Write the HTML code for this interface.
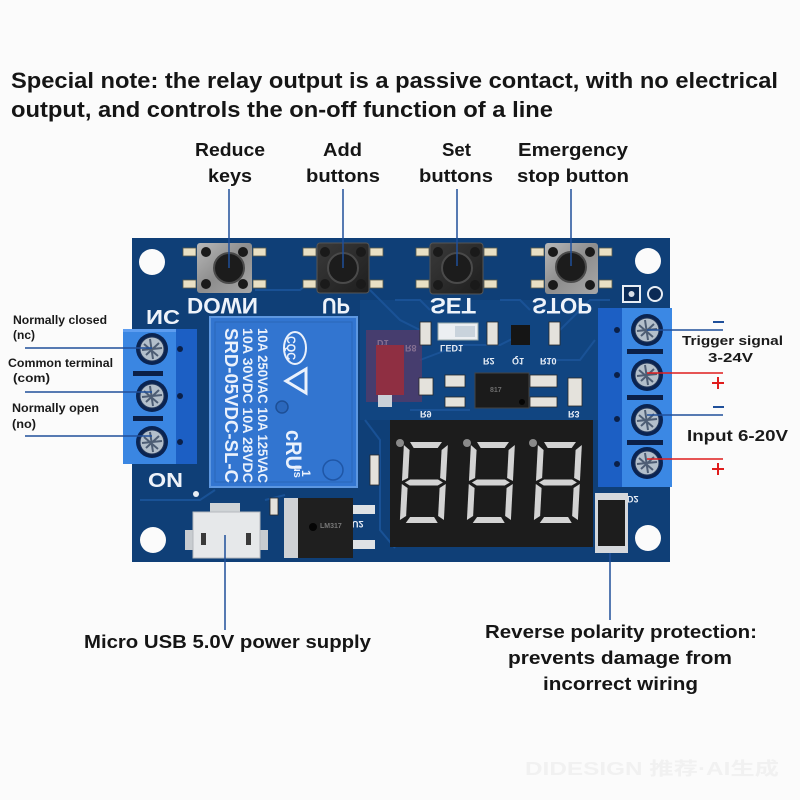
<!DOCTYPE html>
<html><head><meta charset="utf-8">
<style>
html,body{margin:0;padding:0;background:#fbfbfb;}
svg{display:block;}
text{font-family:"Liberation Sans","DejaVu Sans",sans-serif;font-weight:bold;}
</style></head><body>
<svg width="800" height="800" viewBox="0 0 800 800" xmlns="http://www.w3.org/2000/svg">
<defs>
  <g id="screw">
    <circle r="16" fill="#0a2452"/>
    <circle r="12" fill="#b3bfcb"/>
    <path d="M-8,-5 L6,7 M-6,6 L7,-6 M-2,-10 L1,10 M-10,1 L10,-1" stroke="#4d5d74" stroke-width="2"/>
    <circle r="12" fill="none" stroke="#23375a" stroke-width="1"/>
  </g>
  <linearGradient id="silver" x1="0" y1="0" x2="1" y2="1">
    <stop offset="0" stop-color="#b8b8b8"/><stop offset="0.5" stop-color="#8d8d8d"/><stop offset="1" stop-color="#a8a8a8"/>
  </linearGradient>
  <linearGradient id="dark" x1="0" y1="0" x2="1" y2="1">
    <stop offset="0" stop-color="#3a3a3a"/><stop offset="1" stop-color="#1e1e1e"/>
  </linearGradient>
  <g id="seg">
    <polygon points="6,0 38,0 34,6 10,6"/>
    <polygon points="10,75 34,75 38,81 6,81"/>
    <polygon points="0,3 6,8 6,36 0,39"/>
    <polygon points="0,42 6,46 6,74 0,78"/>
    <polygon points="44,3 44,39 38,36 38,8"/>
    <polygon points="44,42 44,78 38,74 38,46"/>
    <polygon points="3,40.5 8,37.5 36,37.5 41,40.5 36,43.5 8,43.5"/>
  </g>
</defs>
<rect width="800" height="800" fill="#fbfbfb"/>

<!-- Title -->
<text x="11" y="88" font-size="22" fill="#151515" textLength="767" lengthAdjust="spacingAndGlyphs">Special note: the relay output is a passive contact, with no electrical</text>
<text x="11" y="117" font-size="22" fill="#151515" textLength="542" lengthAdjust="spacingAndGlyphs">output, and controls the on-off function of a line</text>

<!-- Top labels -->
<g font-size="18" fill="#151515">
  <text x="195" y="156" textLength="70" lengthAdjust="spacingAndGlyphs">Reduce</text>
  <text x="208" y="182" textLength="44" lengthAdjust="spacingAndGlyphs">keys</text>
  <text x="323" y="156" textLength="39" lengthAdjust="spacingAndGlyphs">Add</text>
  <text x="306" y="182" textLength="74" lengthAdjust="spacingAndGlyphs">buttons</text>
  <text x="442" y="156" textLength="29" lengthAdjust="spacingAndGlyphs">Set</text>
  <text x="419" y="182" textLength="74" lengthAdjust="spacingAndGlyphs">buttons</text>
  <text x="518" y="156" textLength="110" lengthAdjust="spacingAndGlyphs">Emergency</text>
  <text x="517" y="182" textLength="112" lengthAdjust="spacingAndGlyphs">stop button</text>
</g>

<!-- PCB -->
<rect x="132" y="238" width="538" height="324" fill="#0f3f77"/>
<rect x="360" y="300" width="240" height="120" fill="#134a88" opacity="0.6"/>
<!-- traces -->
<g stroke="#1b5499" stroke-width="2" fill="none" opacity="0.9">
  <path d="M255 290 L300 290 L310 282 L320 282"/>
  <path d="M370 290 L400 320 L420 330"/>
  <path d="M420 360 L460 345 L500 345 L520 335"/>
  <path d="M540 360 L580 360 L595 340"/>
  <path d="M365 420 L380 440 L380 530 L395 548"/>
  <path d="M410 410 L470 410"/>
  <path d="M560 330 L590 300 L610 300"/>
  <path d="M140 500 L200 500 L215 490"/>
  <path d="M265 500 L285 495"/>
  <path d="M395 300 L420 300 L430 310"/>
  <path d="M500 300 L520 300 L530 310"/>
</g>
<!-- holes -->
<g fill="#fbfbfb">
  <circle cx="152" cy="262" r="13"/>
  <circle cx="648" cy="261" r="13"/>
  <circle cx="153" cy="540" r="13"/>
  <circle cx="648" cy="538" r="13"/>
</g>
<!-- top right pads -->
<rect x="623" y="286" width="17" height="16" fill="#0b2a55" stroke="#e8eef5" stroke-width="2"/>
<circle cx="631.5" cy="294" r="3" fill="#d8dde5"/>
<circle cx="655" cy="294" r="7" fill="#0b2a55" stroke="#e8eef5" stroke-width="2"/>

<!-- Buttons -->
<g>
  <g fill="#e9e0c4" stroke="#5a5a4a" stroke-width="0.8">
    <rect x="183" y="248" width="13" height="8"/><rect x="253" y="248" width="13" height="8"/>
    <rect x="183" y="280" width="13" height="8"/><rect x="253" y="280" width="13" height="8"/>
    <rect x="303" y="248" width="13" height="8"/><rect x="370" y="248" width="13" height="8"/>
    <rect x="303" y="280" width="13" height="8"/><rect x="370" y="280" width="13" height="8"/>
    <rect x="416" y="248" width="13" height="8"/><rect x="484" y="248" width="13" height="8"/>
    <rect x="416" y="280" width="13" height="8"/><rect x="484" y="280" width="13" height="8"/>
    <rect x="531" y="248" width="13" height="8"/><rect x="599" y="248" width="13" height="8"/>
    <rect x="531" y="280" width="13" height="8"/><rect x="599" y="280" width="13" height="8"/>
  </g>
  <rect x="197" y="243" width="55" height="50" rx="3" fill="url(#silver)"/>
  <rect x="317" y="243" width="52" height="50" rx="3" fill="url(#dark)" stroke="#555" stroke-width="1"/>
  <rect x="430" y="243" width="53" height="51" rx="3" fill="url(#dark)" stroke="#555" stroke-width="1"/>
  <rect x="545" y="243" width="53" height="51" rx="3" fill="url(#silver)"/>
  <g fill="#1a1a1a">
    <circle cx="206" cy="252" r="5"/><circle cx="243" cy="252" r="5"/><circle cx="206" cy="284" r="5"/><circle cx="243" cy="284" r="5"/>
    <circle cx="325" cy="252" r="5"/><circle cx="361" cy="252" r="5"/><circle cx="325" cy="284" r="5"/><circle cx="361" cy="284" r="5"/>
    <circle cx="438" cy="252" r="5"/><circle cx="475" cy="252" r="5"/><circle cx="438" cy="285" r="5"/><circle cx="475" cy="285" r="5"/>
    <circle cx="553" cy="252" r="5"/><circle cx="590" cy="252" r="5"/><circle cx="553" cy="285" r="5"/><circle cx="590" cy="285" r="5"/>
  </g>
  <g fill="#1c1c1c" stroke="#4a4a4a" stroke-width="2">
    <circle cx="229" cy="268" r="15"/>
    <circle cx="343" cy="268" r="15"/>
    <circle cx="457" cy="268" r="15"/>
    <circle cx="571" cy="267" r="15"/>
  </g>
</g>

<!-- silkscreen flipped labels -->
<g fill="#eef3fa" font-size="22">
  <text transform="translate(0,612) scale(1,-1)" x="187" y="314" textLength="71" lengthAdjust="spacingAndGlyphs">DOWN</text>
  <text transform="translate(0,612) scale(1,-1)" x="322" y="314" textLength="28" lengthAdjust="spacingAndGlyphs">UP</text>
  <text transform="translate(0,612) scale(1,-1)" x="430" y="314" textLength="46" lengthAdjust="spacingAndGlyphs">SET</text>
  <text transform="translate(0,612) scale(1,-1)" x="532" y="314" textLength="60" lengthAdjust="spacingAndGlyphs">STOP</text>
  <text transform="translate(0,636) scale(1,-1)" x="146" y="326" font-size="20" textLength="34" lengthAdjust="spacingAndGlyphs">NC</text>
  <text x="148" y="487" font-size="20" textLength="35" lengthAdjust="spacingAndGlyphs">ON</text>
</g>
<circle cx="196" cy="494" r="3" fill="#e8eef5"/>

<!-- small component labels -->
<g fill="#e6ecf5" font-size="9">
  <text transform="translate(0,700) scale(1,-1)" x="405" y="355">R8</text>
  <text transform="translate(0,700) scale(1,-1)" x="440" y="355">LED1</text>
  <text transform="translate(0,720) scale(1,-1)" x="483" y="362">R2</text>
  <text transform="translate(0,720) scale(1,-1)" x="512" y="362">Q1</text>
  <text transform="translate(0,720) scale(1,-1)" x="540" y="362">R10</text>
  <text transform="translate(0,830) scale(1,-1)" x="420" y="419">R9</text>
  <text transform="translate(0,830) scale(1,-1)" x="568" y="419">R3</text>
  <text transform="translate(0,1000) scale(1,-1)" x="627" y="504">D2</text>
  <text transform="translate(0,690) scale(1,-1)" x="377" y="350">D1</text>
  <text transform="translate(0,1050) scale(1,-1)" x="352" y="529">U2</text>
</g>

<!-- left terminal block -->
<rect x="123" y="329" width="53" height="135" fill="#3a86e2"/>
<rect x="123" y="329" width="53" height="3" fill="#5d9df0"/>
<rect x="176" y="329" width="21" height="135" fill="#1c5fc4"/>
<g fill="#0b2048">
  <circle cx="180" cy="349" r="3"/><circle cx="180" cy="396" r="3"/><circle cx="180" cy="442" r="3"/>
  <rect x="133" y="371" width="30" height="5"/><rect x="133" y="416" width="30" height="5"/>
</g>
<use href="#screw" x="152" y="349"/>
<use href="#screw" x="152" y="396"/>
<use href="#screw" x="152" y="442"/>

<!-- right terminal block -->
<rect x="598" y="308" width="24" height="179" fill="#1c5fc4"/>
<rect x="622" y="308" width="50" height="179" fill="#3b88e4"/>
<g fill="#0b2048">
  <circle cx="617" cy="330" r="3"/><circle cx="617" cy="375" r="3"/><circle cx="617" cy="419" r="3"/><circle cx="617" cy="464" r="3"/>
  <rect x="627" y="349" width="36" height="5"/><rect x="627" y="395" width="36" height="5"/><rect x="627" y="440" width="36" height="5"/>
</g>
<use href="#screw" x="647" y="330"/>
<use href="#screw" x="647" y="375"/>
<use href="#screw" x="647" y="420"/>
<use href="#screw" x="647" y="463"/>

<!-- Relay -->
<rect x="210" y="317" width="147" height="170" fill="#3275d0" stroke="#5d97e0" stroke-width="2"/>
<rect x="215" y="322" width="137" height="160" fill="none" stroke="#2a66b9" stroke-width="1"/>
<g fill="#eaf1fc">
  <text transform="translate(225,328) rotate(90)" font-size="18" textLength="155" lengthAdjust="spacingAndGlyphs">SRD-05VDC-SL-C</text>
  <text transform="translate(243,328) rotate(90)" font-size="14" textLength="155" lengthAdjust="spacingAndGlyphs">10A  30VDC  10A  28VDC</text>
  <text transform="translate(258,328) rotate(90)" font-size="14" textLength="155" lengthAdjust="spacingAndGlyphs">10A 250VAC 10A 125VAC</text>
  <text transform="translate(287,336) rotate(90)" font-size="12" textLength="24" lengthAdjust="spacingAndGlyphs">CQC</text>
  <text transform="translate(286,430) rotate(90)" font-size="22" textLength="40" lengthAdjust="spacingAndGlyphs">cRU</text>
  <text transform="translate(294,465) rotate(90)" font-size="11">us</text>
  <text transform="translate(302,470) rotate(90)" font-size="12">1</text>
</g>
<ellipse cx="295" cy="348" rx="11" ry="16" fill="none" stroke="#eaf1fc" stroke-width="2"/>
<path d="M286 381 L306 369 L306 393 Z" fill="none" stroke="#eaf1fc" stroke-width="3"/>
<circle cx="282" cy="407" r="6" fill="#2b68bd" stroke="#1d4f96" stroke-width="1.5"/>
<circle cx="333" cy="470" r="10" fill="none" stroke="#1f56a6" stroke-width="1.5"/>

<!-- D1 red area -->
<rect x="366" y="330" width="56" height="72" fill="#5d3b66" opacity="0.7"/>
<rect x="376" y="345" width="28" height="50" fill="#8f2f42"/>
<rect x="378" y="395" width="14" height="12" fill="#c9d0d8"/>

<!-- small parts -->
<g fill="#e4e2dc" stroke="#2a2a2a" stroke-width="0.8">
  <rect x="420" y="322" width="11" height="23"/>
  <rect x="487" y="322" width="11" height="23"/>
  <rect x="549" y="322" width="11" height="23"/>
  <rect x="419" y="378" width="14" height="17"/>
  <rect x="568" y="378" width="14" height="28"/>
  <rect x="445" y="375" width="20" height="12"/>
  <rect x="445" y="397" width="20" height="10"/>
  <rect x="530" y="375" width="27" height="12"/>
  <rect x="530" y="397" width="27" height="10"/>
  <rect x="370" y="455" width="9" height="30"/>
  <rect x="270" y="498" width="8" height="17"/>
</g>
<rect x="438" y="323" width="40" height="17" fill="#eceff2" stroke="#9aa" stroke-width="1"/>
<rect x="455" y="326" width="20" height="11" fill="#c9d3dc"/>
<rect x="511" y="325" width="19" height="20" fill="#151515"/>
<!-- optocoupler -->
<rect x="475" y="373" width="54" height="35" fill="#1b1b1b" stroke="#444" stroke-width="1"/>
<circle cx="522" cy="402" r="3" fill="#050505"/>
<text x="490" y="392" font-size="7" fill="#6d6d6d">817</text>

<!-- Display -->
<rect x="390" y="420" width="203" height="127" fill="#1c1c1c"/>
<g fill="#d3d3d3">
  <use href="#seg" transform="translate(404,442) skewX(-3)"/>
  <use href="#seg" transform="translate(471,442) skewX(-3)"/>
  <use href="#seg" transform="translate(538,442) skewX(-3)"/>
</g>
<g fill="#8a8a8a">
  <circle cx="400" cy="443" r="4"/><circle cx="467" cy="443" r="4"/><circle cx="533" cy="443" r="4"/>
</g>

<!-- D2 -->
<rect x="595" y="493" width="33" height="60" fill="#d5d8dc"/>
<rect x="598" y="500" width="27" height="46" fill="#1d1d1d"/>

<!-- LM317 -->
<rect x="284" y="498" width="16" height="60" fill="#cfd2d5"/>
<rect x="298" y="498" width="55" height="60" fill="#1f1f1f"/>
<rect x="353" y="505" width="22" height="9" fill="#dfe2e5"/>
<rect x="353" y="540" width="22" height="9" fill="#dfe2e5"/>
<circle cx="313" cy="527" r="4" fill="#050505"/>
<text x="320" y="528" font-size="7" fill="#777">LM317</text>

<!-- USB -->
<rect x="210" y="503" width="30" height="9" fill="#cfd3d6"/>
<rect x="185" y="530" width="10" height="20" fill="#c8ccd0"/>
<rect x="258" y="530" width="10" height="20" fill="#c8ccd0"/>
<rect x="193" y="512" width="67" height="46" fill="#e6e8ea" stroke="#b5b9bd" stroke-width="1"/>
<rect x="201" y="533" width="5" height="12" fill="#3a3a3a"/>
<rect x="246" y="533" width="5" height="12" fill="#3a3a3a"/>

<!-- Leader lines -->
<g stroke="#1f4f9a" stroke-width="1.5">
  <line x1="229" y1="189" x2="229" y2="268"/>
  <line x1="343" y1="189" x2="343" y2="268"/>
  <line x1="457" y1="189" x2="457" y2="266"/>
  <line x1="571" y1="189" x2="571" y2="266"/>
  <line x1="25" y1="348" x2="152" y2="348"/>
  <line x1="25" y1="392" x2="152" y2="392"/>
  <line x1="25" y1="436" x2="152" y2="436"/>
  <line x1="647" y1="330" x2="723" y2="330"/>
  <line x1="647" y1="415" x2="723" y2="415"/>
  <line x1="225" y1="535" x2="225" y2="630"/>
  <line x1="610" y1="553" x2="610" y2="620"/>
</g>
<g stroke="#e01c1c" stroke-width="1.5">
  <line x1="647" y1="373" x2="723" y2="373"/>
  <line x1="647" y1="459" x2="723" y2="459"/>
</g>
<g stroke="#1f4f9a" stroke-width="2">
  <line x1="713" y1="322" x2="724" y2="322"/>
  <line x1="713" y1="407" x2="724" y2="407"/>
</g>
<g stroke="#e01c1c" stroke-width="2">
  <line x1="712" y1="383" x2="724" y2="383"/><line x1="718" y1="377" x2="718" y2="389"/>
  <line x1="712" y1="469" x2="724" y2="469"/><line x1="718" y1="463" x2="718" y2="475"/>
</g>

<!-- Left labels -->
<g font-size="12" fill="#1a1a1a">
  <text x="13" y="324" textLength="94" lengthAdjust="spacingAndGlyphs">Normally closed</text>
  <text x="13" y="339" textLength="22" lengthAdjust="spacingAndGlyphs">(nc)</text>
  <text x="8" y="367" textLength="105" lengthAdjust="spacingAndGlyphs">Common terminal</text>
  <text x="13" y="382" textLength="37" lengthAdjust="spacingAndGlyphs">(com)</text>
  <text x="12" y="412" textLength="87" lengthAdjust="spacingAndGlyphs">Normally open</text>
  <text x="12" y="428" textLength="24" lengthAdjust="spacingAndGlyphs">(no)</text>
</g>

<!-- Right labels -->
<g fill="#1a1a1a">
  <text x="682" y="345" font-size="13" textLength="101" lengthAdjust="spacingAndGlyphs">Trigger signal</text>
  <text x="708" y="362" font-size="13" textLength="45" lengthAdjust="spacingAndGlyphs">3-24V</text>
  <text x="687" y="441" font-size="16" textLength="101" lengthAdjust="spacingAndGlyphs">Input 6-20V</text>
</g>

<!-- Bottom labels -->
<g font-size="18" fill="#151515">
  <text x="84" y="648" textLength="287" lengthAdjust="spacingAndGlyphs">Micro USB 5.0V power supply</text>
  <text x="485" y="638" textLength="272" lengthAdjust="spacingAndGlyphs">Reverse polarity protection:</text>
  <text x="508" y="664" textLength="224" lengthAdjust="spacingAndGlyphs">prevents damage from</text>
  <text x="543" y="690" textLength="155" lengthAdjust="spacingAndGlyphs">incorrect wiring</text>
</g>

<!-- watermark -->
<text x="525" y="775" font-size="18" fill="#f1f1f1" style="font-family:'Liberation Sans','Noto Sans CJK SC',sans-serif" textLength="254" lengthAdjust="spacingAndGlyphs">DIDESIGN 推荐·AI生成</text>
</svg>
</body></html>
